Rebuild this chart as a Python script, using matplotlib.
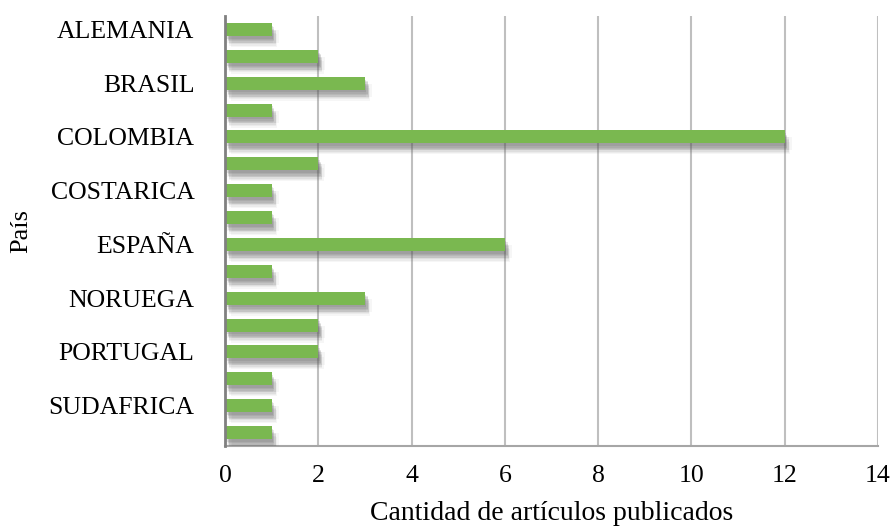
import matplotlib
matplotlib.use("Agg")
import matplotlib.pyplot as plt
import matplotlib.patheffects as pe
import numpy as np

# Categories (only every other label is shown in the original chart)
paises = ["ALEMANIA", "", "BRASIL", "", "COLOMBIA", "", "COSTARICA", "",
          "ESPAÑA", "", "NORUEGA", "", "PORTUGAL", "", "SUDAFRICA", ""]
articulos = [1, 2, 3, 1, 12, 2, 1, 1, 6, 1, 3, 2, 2, 1, 1, 1]
xticks = [0, 2, 4, 6, 8, 10, 12, 14]

fig = plt.figure(figsize=(8.94, 5.27), dpi=100)
ax = fig.add_axes([225/894, 1 - 446/527, (878-225)/894, (446-16)/527])

y = np.arange(len(paises))
bars = ax.barh(y, articulos, height=0.48, color="#7AB850", zorder=3)
effects = []
for dx, dy, a in [(4, -8, 0.05), (3, -7, 0.07), (3, -6, 0.09), (3, -5, 0.10),
                  (2, -4, 0.12), (2, -3, 0.14), (1, -2, 0.16), (5, -5, 0.05),
                  (1, -5, 0.06)]:
    effects.append(pe.SimplePatchShadow(offset=(dx, dy), shadow_rgbFace="#606060", alpha=a))
effects.append(pe.Normal())
for b in bars:
    b.set_path_effects(effects)

ax.set_ylim(len(paises) - 0.5, -0.5)
ax.set_xlim(0, 14)
ax.set_xticks(xticks)
ax.set_xticklabels([str(v) for v in xticks], fontfamily="Liberation Serif", fontsize=18.5)
ax.set_yticks(y)
ax.set_yticklabels(paises, fontfamily="Liberation Serif", fontsize=18.5)
ax.tick_params(axis="both", length=0)
ax.tick_params(axis="y", pad=22)
ax.tick_params(axis="x", pad=14)

ax.grid(axis="x", color="#BFBFBF", linewidth=1.5, zorder=0)
for s in ["top", "right"]:
    ax.spines[s].set_visible(False)
ax.spines["left"].set_color("#808080")
ax.spines["left"].set_linewidth(2)
ax.spines["left"].set_zorder(4)
ax.spines["bottom"].set_color("#A6A6A6")
ax.spines["bottom"].set_linewidth(1.5)

ax.set_xlabel("Cantidad de artículos publicados", fontfamily="Liberation Serif",
              fontsize=20, labelpad=10)
ax.set_ylabel("País", fontfamily="Liberation Serif", fontsize=19)
ax.yaxis.set_label_coords(-(225 - 32) / 653, 0.5)

fig.savefig("out.png", dpi=100)
